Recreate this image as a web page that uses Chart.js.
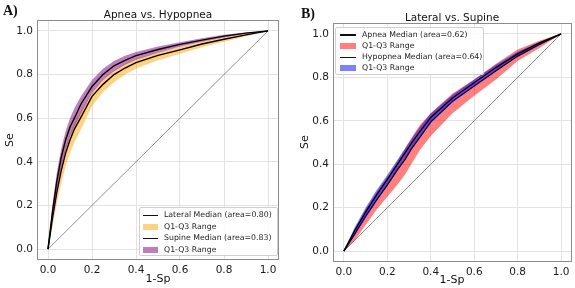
<!DOCTYPE html>
<html>
<head>
<meta charset="utf-8">
<script src="https://cdn.jsdelivr.net/npm/chart.js@4"></script>
<style>
body { margin: 0; background: #fff; font-family: 'DejaVu Sans', sans-serif; }
#wrap { position: relative; width: 575px; height: 288px; overflow: hidden; }
canvas { position: absolute; top: 0; }
.txt { position: absolute; white-space: nowrap; color: #111; }
.panel { font-family: 'Liberation Serif', serif; font-weight: bold; font-size: 14px; }
.ttl { font-size: 10.5px; transform: translateX(-50%); }
.axl { font-size: 11px; transform: translateX(-50%); }
.ayl { font-size: 11px; transform: translate(-50%, -50%) rotate(-90deg); }
.leg { position: absolute; border: 1px solid #d0d0d0; border-radius: 2px; background: rgba(255,255,255,0.85); }
.row { position: absolute; left: 0; right: 0; height: 10px; font-size: 7.8px; color: #222; white-space: nowrap; }
.row span { position: absolute; top: 0; line-height: 10px; white-space: nowrap; }
.hl { position: absolute; top: 4.5px; height: 1.5px; background: #111; }
.hp { position: absolute; top: 2px; height: 6px; }
</style>
</head>
<body>
<div id="wrap">
  <canvas id="chartA" width="287" height="288" style="left:0;width:287px;height:288px"></canvas>
  <canvas id="chartB" width="288" height="288" style="left:287px;width:288px;height:288px"></canvas>

  <div class="txt panel" style="left:3px;top:3px">A)</div>
  <div class="txt panel" style="left:301px;top:6px">B)</div>
  <div class="txt ttl" style="left:158px;top:8px">Apnea vs. Hypopnea</div>
  <div class="txt ttl" style="left:452px;top:11px">Lateral vs. Supine</div>
  <div class="txt axl" style="left:158px;top:272px">1-Sp</div>
  <div class="txt axl" style="left:452px;top:273px">1-Sp</div>
  <div class="txt ayl" style="left:9px;top:140px">Se</div>
  <div class="txt ayl" style="left:304px;top:142px">Se</div>

  <div class="leg" style="left:139px;top:207px;width:137px;height:47px">
    <div class="row" style="top:2px"><div class="hl" style="left:3px;width:15px"></div><span style="left:24px">Lateral Median (area=0.80)</span></div>
    <div class="row" style="top:13.5px"><div class="hp" style="left:3px;width:15px;background:rgba(255,165,0,0.5)"></div><span style="left:24px">Q1-Q3 Range</span></div>
    <div class="row" style="top:25px"><div class="hl" style="left:3px;width:15px"></div><span style="left:24px">Supine Median (area=0.83)</span></div>
    <div class="row" style="top:36.5px"><div class="hp" style="left:3px;width:15px;background:rgba(128,0,128,0.5)"></div><span style="left:24px">Q1-Q3 Range</span></div>
  </div>

  <div class="leg" style="left:335px;top:27px;width:147px;height:46px">
    <div class="row" style="top:1.5px"><div class="hl" style="left:4px;width:16px"></div><span style="left:26px">Apnea Median (area=0.62)</span></div>
    <div class="row" style="top:12.5px"><div class="hp" style="left:4px;width:16px;background:rgba(255,0,0,0.5)"></div><span style="left:26px">Q1-Q3 Range</span></div>
    <div class="row" style="top:24px"><div class="hl" style="left:4px;width:16px"></div><span style="left:26px">Hypopnea Median (area=0.64)</span></div>
    <div class="row" style="top:35px"><div class="hp" style="left:4px;width:16px;background:rgba(0,0,255,0.5)"></div><span style="left:26px">Q1-Q3 Range</span></div>
  </div>
</div>

<script>
// tick labels shared by both panels
var tickVals = [0.0, 0.2, 0.4, 0.6, 0.8, 1.0];
var diagX = [0, 1];
var diagY = [0, 1];

// panel A: apnea vs hypopnea (lateral / supine curves)
var fprA = [0, 0.02, 0.04, 0.06, 0.08, 0.10, 0.12, 0.15, 0.20, 0.25, 0.30, 0.35, 0.40, 0.50, 0.60, 0.70, 0.80, 0.90, 1.0];
var lateralMed = [0, 0.14, 0.26, 0.36, 0.44, 0.50, 0.55, 0.605, 0.70, 0.755, 0.80, 0.83, 0.855, 0.888, 0.913, 0.94, 0.962, 0.982, 1.0];
var lateralQ3 = [0, 0.17, 0.30, 0.40, 0.47, 0.53, 0.58, 0.635, 0.72, 0.78, 0.82, 0.85, 0.872, 0.902, 0.926, 0.951, 0.971, 0.988, 1.0];
var lateralQ1 = [0, 0.10, 0.21, 0.30, 0.38, 0.44, 0.49, 0.55, 0.655, 0.72, 0.765, 0.80, 0.828, 0.865, 0.895, 0.925, 0.950, 0.975, 1.0];
var supineMed = [0, 0.17, 0.31, 0.42, 0.50, 0.56, 0.60, 0.665, 0.745, 0.80, 0.84, 0.865, 0.887, 0.915, 0.938, 0.958, 0.976, 0.99, 1.0];
var supineQ3 = [0, 0.20, 0.35, 0.46, 0.54, 0.60, 0.645, 0.70, 0.775, 0.826, 0.862, 0.886, 0.903, 0.928, 0.948, 0.966, 0.982, 0.993, 1.0];
var supineQ1 = [0, 0.13, 0.26, 0.37, 0.45, 0.515, 0.56, 0.62, 0.715, 0.775, 0.815, 0.845, 0.868, 0.900, 0.927, 0.950, 0.970, 0.987, 1.0];

// panel B: lateral vs supine (apnea / hypopnea curves)
var fprB = [0, 0.05, 0.10, 0.15, 0.20, 0.25, 0.28, 0.31, 0.35, 0.40, 0.50, 0.60, 0.70, 0.80, 0.90, 1.0];
var apneaMed = [0, 0.08, 0.16, 0.235, 0.305, 0.38, 0.42, 0.47, 0.525, 0.595, 0.69, 0.76, 0.83, 0.898, 0.952, 1.0];
var apneaQ3 = [0, 0.10, 0.19, 0.27, 0.34, 0.42, 0.47, 0.52, 0.58, 0.635, 0.725, 0.79, 0.862, 0.928, 0.968, 1.0];
var apneaQ1 = [0, 0.05, 0.12, 0.19, 0.25, 0.31, 0.35, 0.40, 0.465, 0.53, 0.635, 0.715, 0.79, 0.875, 0.935, 1.0];
var hypoMed = [0, 0.095, 0.18, 0.258, 0.33, 0.405, 0.45, 0.495, 0.55, 0.615, 0.705, 0.775, 0.845, 0.908, 0.958, 1.0];
var hypoQ3 = [0, 0.11, 0.20, 0.28, 0.35, 0.425, 0.47, 0.515, 0.572, 0.635, 0.72, 0.79, 0.858, 0.918, 0.963, 1.0];
var hypoQ1 = [0, 0.075, 0.155, 0.23, 0.305, 0.38, 0.425, 0.47, 0.525, 0.59, 0.685, 0.758, 0.83, 0.898, 0.95, 1.0];

function pts(xs, ys) {
    return xs.map(function (x, i) { return { x: x, y: ys[i] }; });
}

function line(data, color, width, order) {
    return { data: data, borderColor: color, borderWidth: width, pointRadius: 0, fill: false, order: order };
}

function band(data, fillColor, order) {
    return { data: data, borderWidth: 0, borderColor: 'rgba(0,0,0,0)', backgroundColor: fillColor, pointRadius: 0, fill: '+1', order: order };
}

var framePlugin = {
    id: 'frame',
    afterDatasetsDraw: function (chart) {
        var a = chart.chartArea, ctx = chart.ctx;
        ctx.save();
        ctx.strokeStyle = '#8c8c8c';
        ctx.lineWidth = 1;
        ctx.strokeRect(Math.round(a.left) + 0.5, Math.round(a.top) + 0.5, Math.round(a.right - a.left) - 1, Math.round(a.bottom - a.top) - 1);
        ctx.restore();
    }
};

function makeScales(yWidth, xHeight) {
    var axis = function (fitFn) {
        return {
            type: 'linear', min: -0.05, max: 1.05,
            afterBuildTicks: function (ax) { ax.ticks = tickVals.map(function (v) { return { value: v }; }); },
            afterFit: fitFn,
            ticks: { color: '#1a1a1a', font: { family: 'DejaVu Sans', size: 10.5 }, padding: 4,
                callback: function (v) { return Number(v).toFixed(1); } },
            grid: { color: '#e3e3e3', lineWidth: 1, drawTicks: false },
            border: { display: false }
        };
    };
    return {
        x: axis(function (s) { s.height = xHeight; }),
        y: axis(function (s) { s.width = yWidth; })
    };
}

function createChart(id, datasets, yWidth, xHeight, pad) {
    return new Chart(id, {
        type: 'line',
        data: { datasets: datasets },
        options: {
            responsive: false,
            animation: false,
            layout: { padding: pad },
            plugins: { legend: { display: false }, tooltip: { enabled: false } },
            scales: makeScales(yWidth, xHeight)
        },
        plugins: [framePlugin]
    });
}

createChart('chartA', [
    line(pts(diagX, diagY), 'rgba(70,70,70,0.75)', 0.8, 10),
    band(pts(fprA, lateralQ3), 'rgba(255,165,0,0.5)', 6),
    line(pts(fprA, lateralQ1), 'rgba(0,0,0,0)', 0, 6),
    line(pts(fprA, lateralMed), '#000', 1.4, 5),
    band(pts(fprA, supineQ3), 'rgba(128,0,128,0.5)', 4),
    line(pts(fprA, supineQ1), 'rgba(0,0,0,0)', 0, 4),
    line(pts(fprA, supineMed), '#000', 1.4, 3)
], 37, 28, { left: 0, top: 20, right: 8, bottom: 0 });

createChart('chartB', [
    line(pts(diagX, diagY), 'rgba(70,70,70,0.75)', 0.8, 10),
    band(pts(fprB, apneaQ3), 'rgba(255,0,0,0.5)', 6),
    line(pts(fprB, apneaQ1), 'rgba(0,0,0,0)', 0, 6),
    line(pts(fprB, apneaMed), '#000', 1.4, 5),
    band(pts(fprB, hypoQ3), 'rgba(0,0,255,0.5)', 4),
    line(pts(fprB, hypoQ1), 'rgba(0,0,0,0)', 0, 4),
    line(pts(fprB, hypoMed), '#000', 1.4, 3)
], 46, 26, { left: 0, top: 23, right: 3, bottom: 0 });
</script>
</body>
</html>
